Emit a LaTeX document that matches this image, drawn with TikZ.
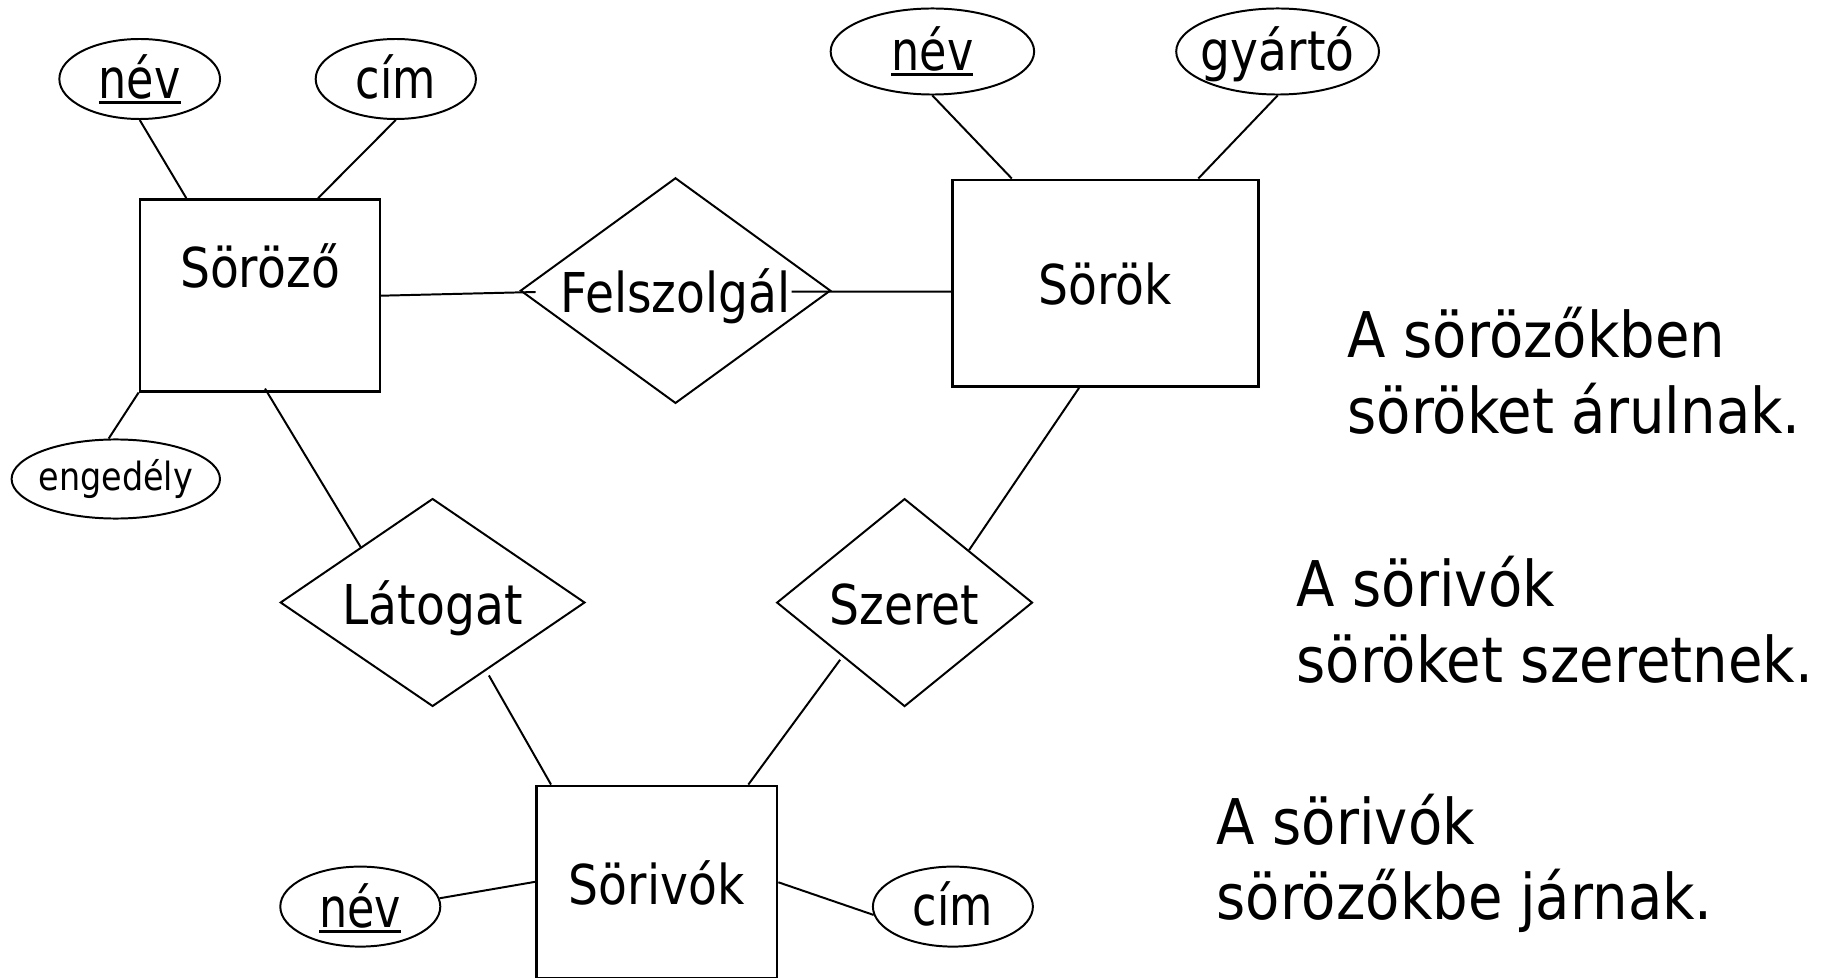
\documentclass[tikz,border=0pt]{standalone}
\usepackage{fontspec}
\setmainfont{DejaVu Sans}
\newfontfamily\condfont[FakeStretch=0.86]{DejaVu Sans}
\newfontfamily\narrowfont[FakeStretch=0.81]{DejaVu Sans}
\newfontfamily\sidefont[FakeStretch=0.89]{DejaVu Sans}
\usetikzlibrary{shapes.geometric,calc}
\newcommand\myul[1]{\setbox0\hbox{#1}\rlap{\rule[-2.6pt]{\wd0}{1.4pt}}\box0}
\begin{document}
\begin{tikzpicture}[x=0.43pt,y=-0.43pt,
  conn/.style={line width=0.85pt},
  ent/.style={draw, rectangle, line width=1.2pt, inner sep=0pt},
  rel/.style={draw, diamond, line width=0.85pt, inner sep=0pt},
  attr/.style={draw, ellipse, line width=0.85pt, inner sep=0pt},
  lab/.style={inner sep=0pt, text height=0pt, text depth=0pt, font=\condfont\fontsize{23.6}{28}\selectfont},
  alab/.style={inner sep=0pt, text height=0pt, text depth=0pt, font=\narrowfont\fontsize{23.6}{28}\selectfont},
  small/.style={inner sep=0pt, text height=0pt, text depth=0pt, font=\condfont\fontsize{16.7}{20}\selectfont},
  side/.style={anchor=base west, inner sep=0pt, font=\sidefont\fontsize{27.1}{32}\selectfont}]
\useasboundingbox (0,0) rectangle (1823,978);
\clip (0,0) rectangle (1823,978);

% entities
\node[ent, minimum width=103.2pt, minimum height=82.4pt, label={[lab,yshift=3.46pt]center:{Söröző}}] (s1) at (260,295.35) {};
\node[ent, minimum width=131.5pt, minimum height=88.8pt, label={[lab,yshift=-9.37pt]center:{Sörök}}] (s2) at (1105.2,283.2) {};
\node[ent, minimum width=103.5pt, minimum height=82.8pt, label={[lab,yshift=-9.57pt]center:{Sörivók}}] (s3) at (656.6,882.25) {};

% relationships
\node[rel, minimum width=133.4pt, minimum height=97pt, label={[lab,yshift=-9.46pt]center:{Felszolgál}}] (fel) at (675.5,290.6) {};
\node[rel, minimum width=131pt, minimum height=89.4pt, label={[lab,yshift=-9.46pt]center:{Látogat}}] (lat) at (432.6,602.5) {};
\node[rel, minimum width=110pt, minimum height=89.4pt, label={[lab,yshift=-9.46pt]center:{Szeret}}] (sz) at (904.6,602.6) {};

% attributes
\node[attr, minimum width=69.1pt, minimum height=34.4pt, label={[alab,yshift=-8.3pt]center:{\myul{név}}}] (n1) at (139.7,79) {};
\node[attr, minimum width=68.9pt, minimum height=34.4pt, label={[alab,yshift=-8.3pt]center:{cím}}] (c1) at (395.8,79) {};
\node[attr, minimum width=87.5pt, minimum height=37pt, label={[alab,yshift=-7.96pt]center:{\myul{név}}}] (n2) at (932.4,51.5) {};
\node[attr, minimum width=87.2pt, minimum height=37pt, label={[lab,yshift=-7.96pt]center:{gyártó}}] (gy) at (1277.6,51.5) {};
\node[attr, minimum width=89.6pt, minimum height=34pt, label={[small,yshift=-4.73pt]center:{engedély}}] (eng) at (115.8,479) {};
\node[attr, minimum width=68.8pt, minimum height=34.4pt, label={[alab,yshift=-8.94pt]center:{\myul{név}}}] (n3) at (360.3,906.6) {};
\node[attr, minimum width=68.8pt, minimum height=34.4pt, label={[alab,yshift=-8.26pt]center:{cím}}] (c3) at (952.9,906.6) {};

% connectors
\draw[conn] (n1.south) -- ($(s1.north west)+(47.7,0)$);
\draw[conn] (c1.south) -- ($(s1.north east)+(-63.3,0)$);
\draw[conn] (s1.south west) -- (eng.100);
\draw[conn] ($(s1.east)+(-2.3,0.4)$) -- ($(fel.west)+(16.2,1.4)$);
\draw[conn] ($(fel.east)+(-40,1)$) -- ($(s2.west)+(0,8.4)$);
\draw[conn] ($(s1.south)+(5,-4)$) -- ($(lat.west)!0.53!(lat.north)$);
\draw[conn] ($(lat.east)!0.633!(lat.south)+(0,6.5)$) -- ($(s3.north west)+(16.2,0)$);
\draw[conn] ($(sz.west)!0.5!(sz.south)+(0,4.7)$) -- ($(s3.north east)+(-30,0)$);
\draw[conn] ($(s2.south west)+(128.2,0)$) -- ($(sz.north)!0.5!(sz.east)$);
\draw[conn] (n2.south) -- ($(s2.north west)+(60.9,0)$);
\draw[conn] (gy.south) -- ($(s2.north east)+(-61.2,0)$);
\draw[conn] (n3.6) -- ($(s3.north west)+(0,97.3)$);
\draw[conn] ($(s3.north east)+(0,97.7)$) -- (c3.186);

% side texts
\node[side] (t1a) at (1347,357.8) {A sörözőkben};
\node[side] (t1b) at (1347,434) {söröket árulnak.};
\node[side] (t2a) at (1296,606) {A sörivók};
\node[side] (t2b) at (1296,682) {söröket szeretnek.};
\node[side] (t3a) at (1216,844) {A sörivók};
\node[side] (t3b) at (1216,919) {sörözőkbe járnak.};
\end{tikzpicture}
\end{document}
